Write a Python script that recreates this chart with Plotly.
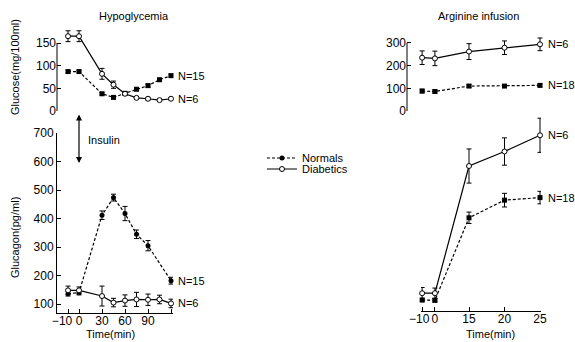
import numpy as np
import plotly.graph_objects as go

W, H = 575, 342
FONT = "Liberation Sans"

# ---------------- data ----------------
# Hypoglycemia (insulin) experiment
hypo_time = [-10, 0, 30, 45, 60, 75, 90, 105, 120]
hypo_glu_norm = [87, 87, 38, 30, 39, 48, 56, 69, 78]
hypo_glu_norm_err = [3, 3, 3, 3, 3, 3, 3, 3, 3]
hypo_glu_diab = [165, 165, 82, 58, 38, 29, 27, 24, 27]
hypo_glu_diab_err = [12, 12, 12, 8, 3, 3, 3, 3, 3]

hypo_gcg_time_norm = [-10, 0, 30, 45, 60, 75, 90, 120]
hypo_gcg_norm = [136, 140, 412, 474, 418, 345, 305, 182]
hypo_gcg_norm_err = [8, 8, 15, 12, 25, 15, 18, 12]
hypo_gcg_diab = [148, 148, 128, 105, 112, 116, 115, 116, 102]
hypo_gcg_diab_err = [15, 12, 35, 15, 20, 25, 20, 15, 15]

# Arginine infusion experiment
arg_time = [-10, 0, 15, 20, 25]
arg_glu_norm = [88, 86, 110, 110, 113]
arg_glu_norm_err = [8, 7, 6, 6, 6]
arg_glu_diab = [235, 232, 262, 279, 294]
arg_glu_diab_err = [30, 32, 35, 30, 28]
arg_gcg_norm = [114, 113, 403, 465, 474]
arg_gcg_norm_err = [6, 6, 20, 24, 22]
arg_gcg_diab = [138, 138, 585, 636, 693]
arg_gcg_diab_err = [20, 18, 60, 48, 60]

hypo_ticks = [-10, 0, 30, 60, 90, 120]
hypo_ticktext = ["\u221210\u2002\u2002", "0", "30", "60", "90", ""]
arg_ticks = [-10, 0, 15, 20, 25]
arg_ticktext = ["\u221210\u2002", "0", "15", "20", "25"]

# broken time axes (pre-zero interval drawn at its own scale)
def hypo_pos(t):
    return np.interp(t, [-10, 0, 120], [-14.3, 0, 120])

def arg_pos(t):
    return np.interp(t, [-10, 0, 15, 25], [8.4, 10.2, 15, 25])

# ---------------- helpers ----------------
def xd(p0, p1):
    return [p0 / W, p1 / W]

def yd(top, bottom):
    return [1 - bottom / H, 1 - top / H]

DASH = "3px,2px"

def err(a):
    return dict(type="data", array=a, color="black", thickness=1, width=2.5, visible=True)

def norm_trace(x, y, e, xa, ya, symbol, show=False, legend="legend"):
    return go.Scatter(x=x, y=y, error_y=err(e), xaxis=xa, yaxis=ya, mode="lines+markers",
                      line=dict(color="black", width=1.2, dash=DASH),
                      marker=dict(symbol=symbol, size=5, color="black"),
                      name="Normals", showlegend=show, legend=legend, cliponaxis=False)

def diab_trace(x, y, e, xa, ya, show=False, legend="legend"):
    return go.Scatter(x=x, y=y, error_y=err(e), xaxis=xa, yaxis=ya, mode="lines+markers",
                      line=dict(color="black", width=1.2),
                      marker=dict(symbol="circle", size=5, color="white",
                                  line=dict(color="black", width=1)),
                      name="Diabetics", showlegend=show, legend=legend, cliponaxis=False)

fig = go.Figure()
hx = hypo_pos(hypo_time)
hxn = hypo_pos(hypo_gcg_time_norm)
ax = arg_pos(arg_time)

fig.add_trace(norm_trace(hx, hypo_glu_norm, hypo_glu_norm_err, "x", "y", "square"))
fig.add_trace(diab_trace(hx, hypo_glu_diab, hypo_glu_diab_err, "x", "y"))
fig.add_trace(norm_trace(hxn, hypo_gcg_norm, hypo_gcg_norm_err, "x2", "y2", "circle", True, "legend"))
fig.add_trace(diab_trace(hx, hypo_gcg_diab, hypo_gcg_diab_err, "x2", "y2", True, "legend2"))
fig.add_trace(norm_trace(ax, arg_glu_norm, arg_glu_norm_err, "x3", "y3", "square"))
fig.add_trace(diab_trace(ax, arg_glu_diab, arg_glu_diab_err, "x3", "y3"))
fig.add_trace(norm_trace(ax, arg_gcg_norm, arg_gcg_norm_err, "x4", "y4", "square"))
fig.add_trace(diab_trace(ax, arg_gcg_diab, arg_gcg_diab_err, "x4", "y4"))

tickfont = dict(family=FONT, size=12, color="black")
yax_common = dict(ticks="inside", ticklen=4, tickwidth=1, tickcolor="black", showgrid=False,
                  zeroline=False, tickfont=tickfont, linecolor="black", linewidth=1,
                  automargin=False)
xax_common = dict(showline=True, linecolor="black", linewidth=1, ticks="inside", ticklen=4,
                  tickcolor="black", showgrid=False, zeroline=False, tickfont=tickfont,
                  tickangle=0, automargin=False, ticklabelstandoff=-3)
hidden_x = dict(visible=False, showgrid=False, zeroline=False, automargin=False)

legend_common = dict(xanchor="left", yanchor="middle", font=dict(family=FONT, size=11),
                     bgcolor="rgba(0,0,0,0)", itemwidth=30, tracegroupgap=0,
                     borderwidth=0)

fig.update_layout(
    width=W, height=H, margin=dict(l=0, r=0, t=0, b=0, autoexpand=False),
    paper_bgcolor="white", plot_bgcolor="rgba(0,0,0,0)",
    font=dict(family=FONT, size=11, color="black"),
    xaxis=dict(domain=xd(57, 173), range=[-28.7, 122.6], **hidden_x),
    yaxis=dict(domain=yd(28, 112), range=[-2.2, 183.1], tickvals=[0, 50, 100, 150],
               showline=False, anchor="x", **yax_common),
    xaxis2=dict(domain=xd(57, 173), range=[-28.7, 122.6], anchor="y2",
                tickvals=list(hypo_pos(hypo_ticks)), ticktext=hypo_ticktext, **xax_common),
    yaxis2=dict(domain=yd(133, 313), range=[68.4, 701], tickvals=[100, 200, 300, 400, 500, 600, 700],
                showline=True, anchor="x2", **yax_common),
    xaxis3=dict(domain=xd(407, 575), range=[6.27, 29.93], anchor="y3", **hidden_x),
    yaxis3=dict(domain=yd(28, 112), range=[-4.4, 366], tickvals=[0, 100, 200, 300],
                showline=False, anchor="x3", **yax_common),
    xaxis4=dict(domain=xd(421, 541), range=[8.24, 25.14], anchor="y4",
                tickvals=list(arg_pos(arg_ticks)), ticktext=arg_ticktext, **xax_common),
    yaxis4=dict(domain=yd(115, 311), range=[75.4, 764.3], visible=False, anchor="x4",
                automargin=False),
    legend=dict(x=262 / W, y=1 - 158 / H, **legend_common),
    legend2=dict(x=262 / W, y=1 - 169 / H, **legend_common),
)

# partial y-axis lines for glucose panels
fig.add_shape(type="line", xref="x domain", yref="y", x0=0, x1=0, y0=0, y1=150,
              line=dict(color="black", width=1))
fig.add_shape(type="line", xref="x3 domain", yref="y3", x0=0, x1=0, y0=0, y1=300,
              line=dict(color="black", width=1))

ann = []
def text(x, y, s, xref="paper", yref="paper", **kw):
    d = dict(x=x, y=y, xref=xref, yref=yref, text=s, showarrow=False,
             xanchor="center", yanchor="middle",
             font=dict(family=FONT, size=11, color="black"))
    d.update(kw)
    ann.append(d)

text(134 / W, 1 - 16 / H, "Hypoglycemia")
text(478 / W, 1 - 16 / H, "Arginine infusion")
text(15 / W, 1 - 67 / H, "Glucose(mg/100ml)", textangle=-90)
text(15 / W, 1 - 238 / H, "Glucagon(pg/ml)", textangle=-90)
text(110 / W, 1 - 334 / H, "Time(min)")
text(490 / W, 1 - 334 / H, "Time(min)")
text(86 / W, 1 - 140 / H, "Insulin", xanchor="left")

# N labels next to the last points
text(hx[-1], hypo_glu_norm[-1], "N=15", xref="x", yref="y", xanchor="left", xshift=5)
text(hx[-1], hypo_glu_diab[-1], "N=6", xref="x", yref="y", xanchor="left", xshift=5)
text(hxn[-1], hypo_gcg_norm[-1], "N=15", xref="x2", yref="y2", xanchor="left", xshift=5)
text(hx[-1], hypo_gcg_diab[-1], "N=6", xref="x2", yref="y2", xanchor="left", xshift=5)
text(ax[-1], arg_glu_diab[-1], "N=6", xref="x3", yref="y3", xanchor="left", xshift=6)
text(ax[-1], arg_glu_norm[-1], "N=18", xref="x3", yref="y3", xanchor="left", xshift=6)
text(ax[-1], arg_gcg_diab[-1], "N=6", xref="x4", yref="y4", xanchor="left", xshift=6)
text(ax[-1], arg_gcg_norm[-1], "N=18", xref="x4", yref="y4", xanchor="left", xshift=6)

# insulin arrow (double headed) at time 0
ann.append(dict(x=hypo_pos(0), y=1 - 163 / H, xref="x2", yref="paper", text="",
                showarrow=True, ax=0, ay=-50, arrowhead=2, arrowsize=1, arrowwidth=1.2,
                arrowcolor="black", arrowside="end+start", startarrowhead=2))
fig.update_layout(annotations=ann)

fig.write_html("out.html", config={"displayModeBar": False},
               post_script="document.body.style.margin='0px';document.body.style.overflow='hidden';")
